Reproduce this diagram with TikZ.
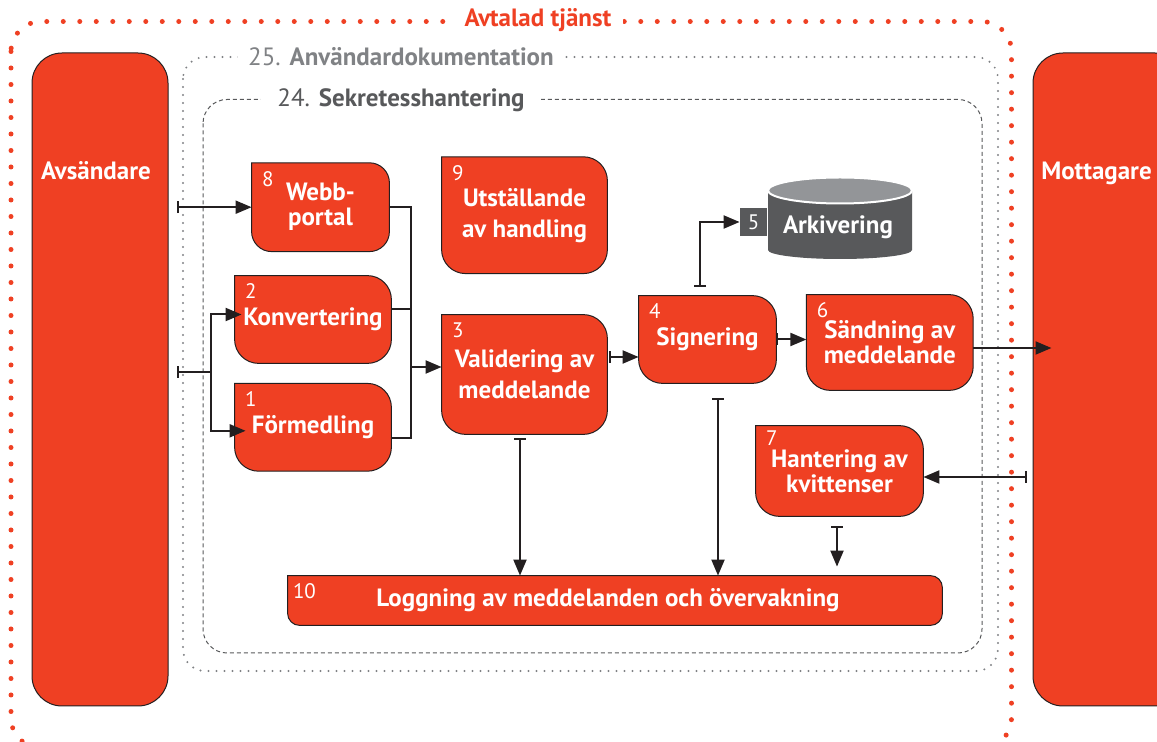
\documentclass[tikz,border=0pt]{standalone}
\usepackage{fontspec}
\setmainfont{PT Sans}
\usetikzlibrary{positioning,arrows.meta,calc,backgrounds}

\definecolor{boxred}{RGB}{239,64,35}
\definecolor{outline}{RGB}{35,31,32}
\definecolor{dotgrey}{RGB}{128,130,133}
\definecolor{dashgrey}{RGB}{88,89,91}
\definecolor{archtop}{RGB}{147,149,152}

\tikzstyle{procbox}    = [rectangle, inner sep=0pt, align=center, text=white, font=\fontsize{12.5}{12.5}\selectfont\bfseries]
\tikzstyle{boxshape}   = [fill=boxred, draw=outline, line width=0.5pt]
\tikzstyle{endbox}     = [rectangle, rounded corners=15pt, fill=boxred, draw=outline, line width=0.5pt, minimum width=68pt, minimum height=326.5pt]
\tikzstyle{endtext}    = [text=white, font=\fontsize{12.5}{13}\selectfont\bfseries, anchor=base]
\tikzstyle{numlabel}   = [text=white, font=\fontsize{10.5}{12}\selectfont, anchor=north west, inner xsep=5pt, inner ysep=4pt]
\tikzstyle{framelabel} = [fill=white, anchor=base, inner ysep=1pt, font=\fontsize{12.5}{13}\selectfont]
\tikzstyle{reddots}    = [draw=boxred, line width=2.5pt, line cap=round, dash pattern=on 0pt off 8.25pt, rounded corners=15pt]
\tikzstyle{greydots}   = [draw=dotgrey, line width=1.1pt, line cap=round, dash pattern=on 0pt off 4pt, rounded corners=11pt]
\tikzstyle{greydash}   = [draw=dashgrey, line width=0.5pt, dash pattern=on 2pt off 1.5pt, rounded corners=12pt]
\tikzstyle{joinline}   = [line width=1pt, draw=outline]
\tikzstyle{conn}       = [joinline, -{Triangle[length=8pt,width=6.5pt]}]
\tikzstyle{barconn}    = [joinline, {Bar[width=6pt]}-{Triangle[length=8pt,width=6.5pt]}]
\tikzstyle{barline}    = [joinline, {Bar[width=6pt]}-]

\begin{document}
\begin{tikzpicture}[x=0.5pt, y=-0.5pt]
    \useasboundingbox (0,0) rectangle (1157,742);

    % frames
    \draw[reddots]  (11,21.5) rectangle (1011.5,748);
    \draw[greydots] (183,57)  rectangle (998,671);
    \draw[greydash] (203,99.5) rectangle (982,653);
    \node (tjanst) [framelabel, anchor=center, inner xsep=6pt, text=boxred, font=\fontsize{12.5}{13}\selectfont\bfseries] at (538,20) {Avtalad tjänst};
    \node (doklbl) [framelabel, inner xsep=5pt, text=dotgrey]  at (401,66)  {25. \textbf{Användardokumentation}};
    \node (seklbl) [framelabel, inner xsep=8pt, text=dashgrey] at (401,107) {24. \textbf{Sekretesshantering}};

    % ends
    \node (avs)  [endbox, label={[endtext, xshift=-2pt, yshift=-63.5pt]north:Avsändare}] at (100,379.5) {};
    \node (mott) [endbox, minimum width=76pt, label={[endtext, xshift=-6.25pt, yshift=-63.5pt]north:Mottagare}] at (1109,379.5) {};

    % steps
    \node (konv)  [procbox, minimum width=78pt, minimum height=43.5pt, label={[numlabel]north west:2}] at (313,319.5) {Konvertering};
    \node (form)  [procbox, minimum width=78pt, minimum height=43.5pt, below=10pt of konv, label={[numlabel]north west:1}] {Förmedling};
    \node (webb)  [procbox, minimum width=68.5pt, minimum height=44pt, above=12pt of konv, xshift=3.75pt, label={[numlabel]north west:8}] {Webb-\\portal};
    \node (valid) [procbox, minimum width=82.5pt, minimum height=59.5pt, label={[numlabel]north west:3}] at (524.5,374.5) {Validering av\\[3pt]meddelande};
    \node (utst)  [procbox, minimum width=82.5pt, minimum height=58pt, above=20.5pt of valid, label={[numlabel]north west:9}] {Utställande\\[3pt]av handling};
    \node (sign)  [procbox, minimum width=68.5pt, minimum height=43.5pt, label={[numlabel]north west:4}] at (707.5,339.5) {Signering};
    \node (sand)  [procbox, minimum width=83pt, minimum height=47.5pt, right=15pt of sign, yshift=-1.5pt, label={[numlabel]north west:6}] {Sändning av\\meddelande};
    \node (hant)  [procbox, minimum width=83.5pt, minimum height=45pt, label={[numlabel, inner ysep=2.5pt]north west:7}] at (839.5,471) {Hantering av\\kvittenser};
    \node (logg)  [procbox, minimum width=327pt, minimum height=24.5pt, label={[numlabel, xshift=-2.5pt]north west:10}] at (615,600.5) {Loggning av meddelanden och övervakning\hspace*{7pt}};

    % archive
    \fill[dashgrey] (768,190.5) -- (768,250) arc[start angle=180, end angle=360, x radius=36pt, y radius=4.5pt] -- (912,190.5) -- cycle;
    \filldraw[fill=archtop, draw=white, line width=1pt] (840,190.5) ellipse[x radius=36pt, y radius=6.5pt];
    \node (ark)    [endtext] at (838,234) {Arkivering};
    \node (arktab) [rectangle, fill=dashgrey, text=white, minimum width=13.5pt, minimum height=14pt, inner sep=0pt, font=\fontsize{10.5}{12}\selectfont] at (753.5,222) {5};

    \begin{scope}[on background layer]
        \foreach \n/\r in {webb/10pt, konv/12pt, form/12pt, utst/12pt, valid/12pt, sign/12pt, sand/12pt, hant/12pt, logg/6pt}
            \filldraw[boxshape] (\n.north west) -- ([xshift=-\r]\n.north east) arc[start angle=90, end angle=0, radius=\r]
                -- ([yshift=\r]\n.south east) arc[start angle=0, end angle=-90, radius=\r]
                -- ([xshift=\r]\n.south west) arc[start angle=270, end angle=180, radius=\r] -- cycle;
    \end{scope}

    % connectors
    \coordinate (split) at (211,372);
    \coordinate (join)  at (411,367);
    \draw[barconn] ($(avs.east |- webb.west)+(4pt,0)$) -- (webb.west);
    \draw[barline] ($(avs.east |- split)+(4pt,0)$) -- (split);
    \draw[conn]    (split) |- ($(konv.west)+(3.5pt,2.5pt)$);
    \draw[conn]    (split) |- ($(form.west)+(5.5pt,-1.75pt)$);
    \draw[joinline] (webb.east) -| (join);
    \draw[joinline] ($(konv.east)+(0,5pt)$) coordinate (k1) -- (k1 -| join);
    \draw[joinline] ($(form.east)+(0,-5.25pt)$) -| (join);
    \draw[conn]    (join) -- (join -| valid.west);
    \draw[barconn] ($(valid.east)+(1pt,8.75pt)$) coordinate (v2) -- (v2 -| sign.west);
    \draw[barconn] (sign.east) -- (sign.east -| sand.west);
    \draw[barconn] ($(sign.north)+(-3.75pt,4.5pt)$) |- (arktab);
    \draw[conn]    ($(sand.east)+(0,-2.75pt)$) coordinate (s1) -- ($(s1 -| mott.west)+(9.5pt,0)$);
    \draw[barconn] ($(valid.south)+(-2.25pt,-2pt)$) coordinate (v1) -- (v1 |- logg.north);
    \draw[barconn] ($(sign.south)+(5.25pt,-7.5pt)$) coordinate (g1) -- (g1 |- logg.north);
    \draw[barconn] ($(hant.south)+(-1.25pt,-5pt)$) coordinate (h1) -- ($(h1 |- logg.north)+(0,4.5pt)$);
    \draw[barconn] ($(mott.west |- hant.east)+(-3pt,-3pt)$) coordinate (m1) -- (m1 -| hant.east);
\end{tikzpicture}
\end{document}
